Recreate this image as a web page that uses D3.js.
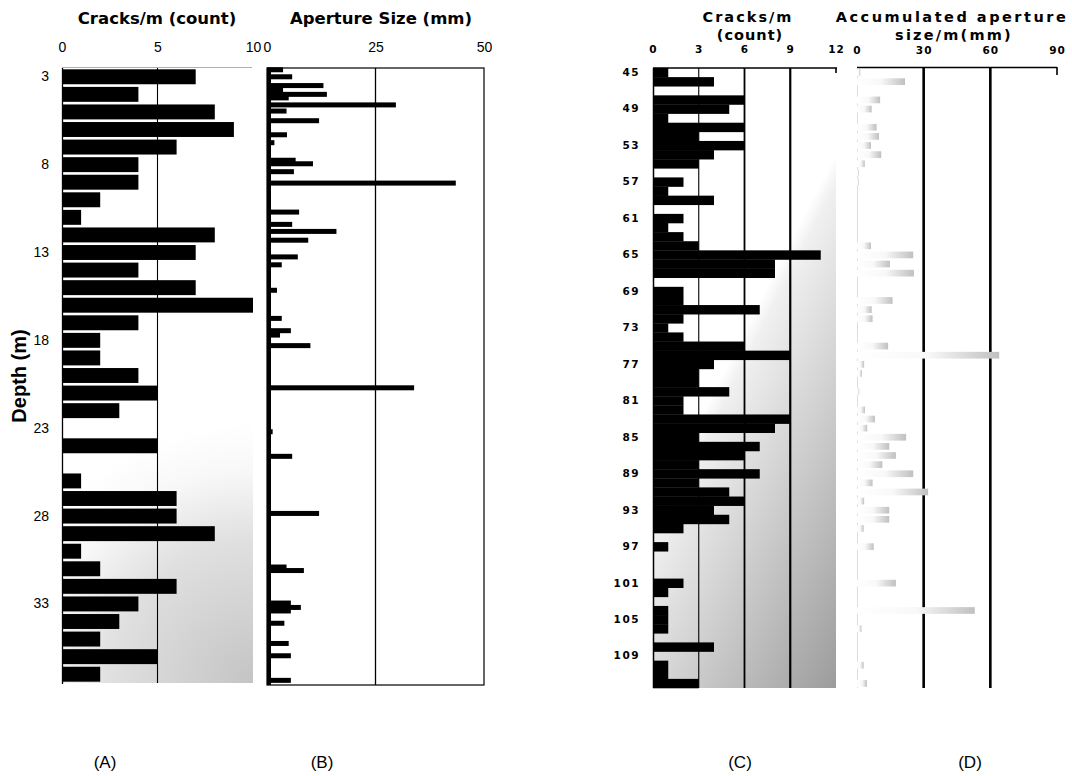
<!DOCTYPE html>
<html><head><meta charset="utf-8">
<script src="https://cdn.jsdelivr.net/npm/d3@7"></script>
<style>body{margin:0;background:#fff}svg{display:block}</style>
</head><body>
<svg id="c" width="1072" height="776"></svg>
<script>
// ---------- DATA ----------
const depthsA = [3,4,5,6,7,8,9,10,11,12,13,14,15,16,17,18,19,20,21,22,23,24,25,26,27,28,29,30,31,32,33,34,35,36,37];
const cracksA = [7,4,8,9,6,4,4,2,1,8,7,4,7,10,4,2,2,4,5,3,0,5,0,1,6,6,8,1,2,6,4,3,2,5,2];
const depthTicksA = [3,8,13,18,23,28,33];
const ticksA = [0,5,10];

const apertureDepthB = [2.6,3.0,3.5,3.75,4.0,4.2,4.6,4.95,5.5,6.3,6.75,7.75,7.95,8.4,9.05,10.7,11.4,11.8,12.3,13.25,13.7,15.15,16.75,17.45,17.7,18.3,20.7,23.2,24.6,27.85,30.9,31.1,32.95,33.2,33.4,34.1,35.25,35.95,37.35];
const apertureB = [3.7,5.8,13,3.7,13.8,5,29.7,4.5,12,4.6,1.7,6.6,10.6,6.2,43.5,7.4,5.8,16,9.5,7.1,3.4,2.3,3.4,5.5,3,10,33.9,1.3,5.8,12,4.5,8.5,5.5,7.8,5.5,4,5,5.5,5.5];
const ticksB = [0,25,50];

const depthsC = [45,46,47,48,49,50,51,52,53,54,55,56,57,58,59,60,61,62,63,64,65,66,67,68,69,70,71,72,73,74,75,76,77,78,79,80,81,82,83,84,85,86,87,88,89,90,91,92,93,94,95,96,97,98,99,100,101,102,103,104,105,106,107,108,109,110,111,112];
const cracksC = [1,4,0,6,5,1,6,3,6,4,3,0,2,1,4,0,2,1,2,3,11,8,8,0,2,2,7,2,1,2,6,9,4,3,3,5,2,2,9,8,3,7,6,3,7,3,5,6,4,5,2,0,1,0,0,0,2,1,0,1,1,1,0,4,0,1,1,3];
const depthTicksC = [45,49,53,57,61,65,69,73,77,81,85,89,93,97,101,105,109];
const ticksC = [0,3,6,9,12];

const depthsD = [45,46,48,49,51,52,53,54,55,56,57,64,65,66,67,70,71,72,75,76,77,78,80,82,83,84,85,86,87,88,89,90,91,92,93,94,95,97,101,104,106,110,112];
const accumD  = [1.5,21.6,10.4,6.6,8.8,9.9,6.3,10.9,3.5,0.8,0.8,6.3,25.3,14.8,25.6,16,6.6,7,14,64,3.2,2.2,1,3.6,8.1,4.6,22.1,14.5,17.5,11.4,25.3,7,32,3.2,14.5,14.5,3,7.5,17.5,53,2,3,4.5];
const ticksD = [0,30,60,90];

const panelLabels = ["(A)","(B)","(C)","(D)"];

// ---------- SETUP ----------
const svg = d3.select("#c");
const defs = svg.append("defs");
const thinFont = "'Liberation Sans', Arial, sans-serif";
const boldFont = "'DejaVu Sans', sans-serif";

const gA = defs.append("radialGradient").attr("id","gA").attr("gradientUnits","userSpaceOnUse")
  .attr("cx",253).attr("cy",683).attr("r",260);
gA.append("stop").attr("offset",0).attr("stop-color","#c4c4c4");
gA.append("stop").attr("offset",0.55).attr("stop-color","#e0e0e0");
gA.append("stop").attr("offset",0.82).attr("stop-color","#f8f8f8");
gA.append("stop").attr("offset",1).attr("stop-color","#ffffff");

const gC = defs.append("linearGradient").attr("id","gC").attr("gradientUnits","userSpaceOnUse")
  .attr("x1",745).attr("y1",330).attr("x2",962).attr("y2",441);
gC.append("stop").attr("offset",0).attr("stop-color","#ffffff");
gC.append("stop").attr("offset",0.06).attr("stop-color","#f0f0f0");
gC.append("stop").attr("offset",1).attr("stop-color","#9c9c9c");

const gD = defs.append("linearGradient").attr("id","gD");
gD.append("stop").attr("offset",0).attr("stop-color","#ffffff");
gD.append("stop").attr("offset",0.5).attr("stop-color","#f8f8f8");
gD.append("stop").attr("offset",1).attr("stop-color","#c0c0c0");

function line(g,x1,y1,x2,y2,w,col){
  g.append("line").attr("x1",x1).attr("y1",y1).attr("x2",x2).attr("y2",y2)
   .attr("stroke",col||"#000").attr("stroke-width",w);
}
function styleAxis(g, font, size, weight, spacing){
  g.select(".domain").remove();
  g.selectAll(".tick line").remove();
  g.selectAll("text").attr("font-family",font).attr("font-size",size)
    .attr("font-weight",weight||"normal").attr("fill","#000")
    .style("letter-spacing",(spacing||0)+"px");
}
function title(x,y,size,spacing,txt){
  svg.append("text").attr("x",x).attr("y",y).attr("text-anchor","middle")
    .attr("font-family",boldFont).attr("font-weight","bold").attr("font-size",size)
    .style("letter-spacing",spacing+"px").text(txt);
}

// ---------- PANEL A ----------
const yA = d3.scaleBand().domain(depthsA).range([68,683]).paddingInner(0.15).paddingOuter(0.075);
const xA = d3.scaleLinear().domain([0,10]).range([62,253]);
const pA = svg.append("g");
pA.append("rect").attr("x",62).attr("y",68).attr("width",191).attr("height",615).attr("fill","url(#gA)");
line(pA,62,67.5,252,67.5,0.8,"#9a9a9a");
line(pA,xA(5),68,xA(5),683,1.1);
pA.selectAll("rect.bar").data(depthsA).join("rect").attr("class","bar")
  .attr("x",xA(0)).attr("y",d=>yA(d)).attr("height",yA.bandwidth())
  .attr("width",(d,i)=>xA(cracksA[i])-xA(0)).attr("fill","#000");
line(pA,62.5,68,62.5,684,1.3);
const axA = pA.append("g").attr("transform","translate(0,68)")
  .call(d3.axisTop(xA).tickValues(ticksA).tickSize(0).tickPadding(16).tickFormat(d3.format("d")));
styleAxis(axA, thinFont, 14);
const ayA = pA.append("g").attr("transform","translate(62,0)")
  .call(d3.axisLeft(yA).tickValues(depthTicksA).tickSize(0).tickPadding(13));
styleAxis(ayA, thinFont, 14);
title(157,24,16.5,0,"Cracks/m (count)");
svg.append("text").attr("transform","translate(26,376) rotate(-90)").attr("text-anchor","middle")
  .attr("font-family",thinFont).attr("font-weight","bold").attr("font-size",20).text("Depth (m)");

// ---------- PANEL B ----------
const yB = d3.scaleLinear().domain([2.5,37.5]).range([68,683]);
const xB = d3.scaleLinear().domain([0,50]).range([267,484]);
const pB = svg.append("g");
pB.append("rect").attr("x",267).attr("y",68).attr("width",217).attr("height",617)
  .attr("fill","none").attr("stroke","#000").attr("stroke-width",1.2);
line(pB,xB(25),68,xB(25),685,1.3);
pB.selectAll("rect.bar").data(apertureDepthB).join("rect").attr("class","bar")
  .attr("x",xB(0)).attr("y",d=>yB(d)-2.5).attr("height",5)
  .attr("width",(d,i)=>xB(apertureB[i])-xB(0)).attr("fill","#000");
line(pB,269,68,269,685,4);
const axB = pB.append("g").attr("transform","translate(0,68)")
  .call(d3.axisTop(xB).tickValues(ticksB).tickSize(0).tickPadding(16));
styleAxis(axB, thinFont, 14);
title(381,24,16.5,0,"Aperture Size (mm)");

// ---------- PANEL C ----------
const yC = d3.scaleBand().domain(depthsC).range([68,688]).padding(0);
const xC = d3.scaleLinear().domain([0,12]).range([653,836]);
const pC = svg.append("g");
pC.append("rect").attr("x",653).attr("y",68).attr("width",183).attr("height",620).attr("fill","url(#gC)");
pC.selectAll("rect.bar").data(depthsC).join("rect").attr("class","bar")
  .attr("x",xC(0)).attr("y",d=>yC(d)).attr("height",yC.bandwidth()+0.3)
  .attr("width",(d,i)=>xC(cracksC[i])-xC(0)).attr("fill","#000");
line(pC,xC(3),68,xC(3),688,1.1);
line(pC,xC(6),68,xC(6),688,1.8);
line(pC,xC(9),68,xC(9),688,2.2);
line(pC,653,68,837,68,1.6);
line(pC,836,68,836,73,1.6);
line(pC,653.5,68,653.5,688,1.5);
const axC = pC.append("g").attr("transform","translate(0,68)")
  .call(d3.axisTop(xC).tickValues(ticksC).tickSize(0).tickPadding(15));
styleAxis(axC, boldFont, 10.5, "bold", 1);
const ayC = pC.append("g").attr("transform","translate(653,0)")
  .call(d3.axisLeft(yC).tickValues(depthTicksC).tickSize(0).tickPadding(13));
styleAxis(ayC, boldFont, 10.5, "bold", 1.5);
title(748,22,14.5,2,"Cracks/m");
title(750,40,14.5,1,"(count)");

// ---------- PANEL D ----------
const xD = d3.scaleLinear().domain([0,90]).range([857,1057]);
const pD = svg.append("g");
line(pD,857,67.5,1057,67.5,1.4);
line(pD,1057,67,1057,75,1.6);
line(pD,857.5,68,857.5,688,0.8,"#d4d4d4");
line(pD,xD(30),68,xD(30),688,2.6);
line(pD,xD(60),68,xD(60),688,2.6);
pD.selectAll("rect.bar").data(depthsD).join("rect").attr("class","bar")
  .attr("x",xD(0)).attr("y",d=>yC(d)+1.2).attr("height",yC.bandwidth()-2.4)
  .attr("width",(d,i)=>xD(accumD[i])-xD(0)).attr("fill","url(#gD)");
const axD = pD.append("g").attr("transform","translate(0,68)")
  .call(d3.axisTop(xD).tickValues(ticksD).tickSize(0).tickPadding(14));
styleAxis(axD, boldFont, 10.5, "bold", 1);
title(952,22,14.5,2.5,"Accumulated aperture");
title(954,40,14.5,2.2,"size/m(mm)");

// ---------- PANEL LABELS ----------
const labelX = [105,322,740,970];
svg.selectAll("text.plabel").data(panelLabels).join("text").attr("class","plabel")
  .attr("x",(d,i)=>labelX[i]).attr("y",768).attr("text-anchor","middle")
  .attr("font-family",thinFont).attr("font-size",17).text(d=>d);
</script>
</body></html>
